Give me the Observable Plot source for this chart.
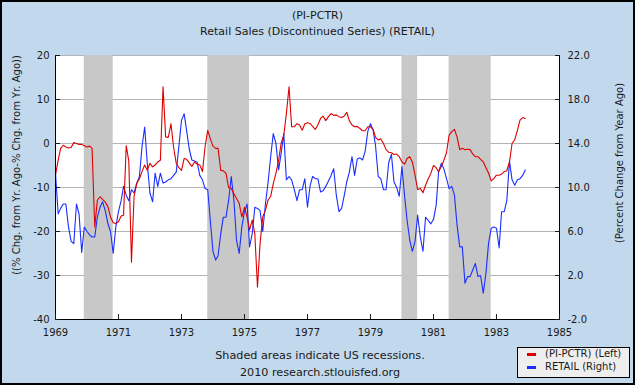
<!DOCTYPE html>
<html><head><meta charset="utf-8">
<script src="https://cdn.jsdelivr.net/npm/d3@7"></script>
<script src="https://cdn.jsdelivr.net/npm/@observablehq/plot@0.6"></script>
<style>
html,body{margin:0;padding:0;background:#c2d8ec;}
#wrap{position:relative;width:635px;height:385px;background:#c2d8ec;font-family:"DejaVu Sans",sans-serif;color:#1a1a1a;overflow:hidden}
#chart{position:absolute;left:0;top:0}
.t{position:absolute;white-space:nowrap;font-size:11px;line-height:13px}
.rot{position:absolute;white-space:nowrap;font-size:10px;line-height:12px;transform:translate(-50%,-50%) rotate(-90deg)}
#border{position:absolute;left:0;top:0;width:635px;height:385px;box-sizing:border-box;border:2px solid #000;pointer-events:none}
#legend{position:absolute;left:517px;top:347px;width:113px;height:31px;box-sizing:border-box;border:1px solid #000;background:#eeeeee;font-size:10px}
.sw{position:absolute;left:9px;width:9px;height:3px}
.lt{position:absolute;left:27px;white-space:nowrap;line-height:12px}
</style></head><body>
<div id="wrap">
<div id="chart"></div>
<div class="t" style="left:0;width:635px;text-align:center;top:9px">(PI-PCTR)</div>
<div class="t" style="left:0;width:635px;text-align:center;top:25px">Retail Sales (Discontinued Series) (RETAIL)</div>
<div class="rot" style="left:17px;top:165px">((% Chg. from Yr. Ago-% Chg. from Yr. Ago))</div>
<div class="rot" style="left:620px;top:163px">(Percent Change from Year Ago)</div>
<div class="t" style="left:0;width:640px;text-align:center;top:349px;font-size:11.2px">Shaded areas indicate US recessions.</div>
<div class="t" style="left:0;width:640px;text-align:center;top:366px;font-size:11.2px">2010 research.stlouisfed.org</div>
<div id="legend">
  <div class="sw" style="top:5px;background:#dd0000"></div><div class="lt" style="top:0px">(PI-PCTR) (Left)</div>
  <div class="sw" style="top:18px;background:#1a2eff"></div><div class="lt" style="top:13px">RETAIL (Right)</div>
</div>
<div id="border"></div>
</div>
<script>
// ---- data (monthly, starting Jan 1969) ----
const startYear = 1969;
const piPctr = [
  -7.2,-3.8,-1.1,-0.4,-0.8,-1.0,-0.9,0.2,0.0,-0.2,-0.2,-0.5,
  -0.8,-0.6,-1.1,-19.0,-12.9,-12.1,-12.7,-13.3,-14.4,-16.7,-18.0,-18.2,
  -17.8,-16.5,-16.3,-0.5,-4.0,-27.0,-12.0,-9.1,-8.0,-6.4,-4.9,-6.1,
  -4.5,-5.3,-4.9,-4.2,-3.8,12.9,1.5,1.4,4.5,-0.8,-4.5,-5.5,
  -6.1,-3.4,-3.6,-4.4,-5.2,-4.2,-4.7,-4.9,-6.4,-0.8,3.0,1.1,
  -0.6,-1.1,-1.1,-6.1,-6.2,-6.8,-10.0,-10.2,-11.4,-12.5,-13.6,-16.7,
  -14.5,-16.7,-19.7,-17.4,-20.5,-32.6,-22.7,-16.7,-15.2,-12.9,-12.0,-9.1,
  -6.8,-3.8,0.0,1.9,6.8,12.9,3.8,3.8,4.5,4.2,3.0,4.5,
  4.7,4.5,3.9,3.2,4.2,5.7,6.2,5.2,6.1,6.8,6.4,6.5,
  6.1,5.9,6.2,7.1,5.2,4.2,3.8,3.9,3.4,2.9,2.9,3.8,
  3.8,3.2,1.4,0.8,1.1,0.0,-1.4,-2.0,-2.1,-2.5,-2.4,-3.0,
  -4.2,-4.7,-3.4,-3.0,-4.2,-7.2,-10.5,-10.2,-11.2,-9.5,-8.0,-6.8,
  -5.0,-5.5,-6.4,-5.3,-3.8,-2.1,1.9,2.7,3.2,1.5,-1.4,-1.1,
  -1.4,-1.3,-1.4,-2.4,-3.0,-3.0,-3.6,-4.2,-5.5,-6.7,-8.5,-8.0,
  -7.2,-7.2,-7.0,-6.4,-6.2,-4.2,0.0,0.9,3.0,5.3,5.9,5.7
];
const retail = [
  11.3,7.6,8.1,8.5,8.5,6.4,5.1,4.9,8.5,7.6,4.1,6.4,
  6.0,5.7,5.5,5.5,7.3,8.2,8.7,7.9,6.7,6.0,4.0,6.4,
  7.8,8.8,10.1,9.3,8.8,9.8,9.5,10.4,11.0,13.7,15.5,12.2,
  9.5,8.7,11.3,10.1,11.3,10.4,10.5,10.7,10.8,11.1,11.4,13.7,
  16.1,16.7,15.2,13.5,12.5,12.4,12.3,11.1,10.7,9.9,9.8,7.0,
  4.2,3.4,3.8,5.8,7.3,7.3,8.8,11.0,8.8,5.2,4.0,6.4,
  7.8,8.5,4.6,5.8,8.2,8.1,7.9,6.0,8.5,10.4,12.8,14.9,
  14.0,11.6,13.1,14.9,10.7,11.0,10.7,9.8,8.8,9.8,9.8,10.8,
  8.2,10.2,11.0,10.8,10.8,9.6,9.7,10.1,10.6,11.1,11.7,9.3,
  7.8,8.1,9.2,10.5,11.4,12.8,11.1,12.6,12.7,12.5,13.3,15.1,
  15.8,15.2,13.8,11.0,10.8,9.8,9.8,12.3,13.0,10.5,10.0,9.2,
  11.9,9.2,7.0,5.2,4.2,5.1,7.5,5.5,4.2,7.3,7.0,6.7,
  7.1,8.4,11.4,12.2,11.7,10.8,9.9,10.1,9.3,6.6,4.6,4.6,
  1.3,1.9,1.9,2.5,3.1,1.9,2.0,0.4,2.2,4.9,6.3,6.4,
  6.3,4.5,7.8,7.8,8.8,12.4,10.7,10.2,10.7,10.8,11.1,11.6
];
const recessionStarts = ["1969-12-01","1973-11-01","1980-01-01","1981-07-01"];
const recessionEnds   = ["1970-11-01","1975-03-01","1980-07-01","1982-11-01"];
const leftTicks  = [-40,-30,-20,-10,0,10,20];
const rightTicks = [-2.0,2.0,6.0,10.0,14.0,18.0,22.0];
const xTickYears = [1969,1971,1973,1975,1977,1979,1981,1983,1985];

// ---- build ----
const monthDate = i => new Date(Date.UTC(startYear, i, 1));
const redData = piPctr.map((v,i)=>({date: monthDate(i), value: v}));
const blueData = retail.map((v,i)=>({date: monthDate(i), value: v}));
const recessions = recessionStarts.map((s,i)=>({start: new Date(s+"T00:00Z"), end: new Date(recessionEnds[i]+"T00:00Z")}));
const L0 = leftTicks[0], L1 = leftTicks[leftTicks.length-1];
const R0 = rightTicks[0], R1 = rightTicks[rightTicks.length-1];
const toLeft = r => L0 + (r - R0) * (L1 - L0) / (R1 - R0);
const toRight = l => R0 + (l - L0) * (R1 - R0) / (L1 - L0);
const xTicks = xTickYears.map(y => new Date(Date.UTC(y,0,1)));
const xDomain = [xTicks[0], xTicks[xTicks.length-1]];

const chart = Plot.plot({
  width: 635, height: 385,
  marginLeft: 55, marginRight: 76, marginTop: 55, marginBottom: 66,
  style: {background: "transparent", fontFamily: "DejaVu Sans", fontSize: "10px", color: "#1a1a1a"},
  x: {type: "utc", domain: xDomain, label: null},
  y: {domain: [L0, L1], label: null},
  marks: [
    Plot.frame({fill: "white", stroke: "none"}),
    Plot.gridY(leftTicks, {stroke: "#b4b4b4", strokeOpacity: 1}),
    Plot.rect(recessions, {x1: "start", x2: "end", y1: L0, y2: L1, fill: "#c8c8c8"}),
    Plot.line(blueData, {x: "date", y: d => toLeft(d.value), stroke: "#1a2eff", strokeWidth: 1.1}),
    Plot.line(redData, {x: "date", y: "value", stroke: "#dd0000", strokeWidth: 1.1}),
    Plot.ruleY([L0], {stroke: "black"}),
    Plot.ruleX(xDomain, {stroke: "black"}),
    Plot.axisX(xTicks, {anchor: "bottom", tickSize: 0, tickPadding: 9, tickFormat: d => String(d.getUTCFullYear()), label: null}),
    Plot.axisX(xTicks, {anchor: "bottom", tickSize: 5, dy: -5, tickFormat: () => "", label: null}),
    Plot.axisY(leftTicks, {anchor: "left", tickSize: 0, tickPadding: 6, tickFormat: d => String(d), label: null}),
    Plot.axisY(leftTicks, {anchor: "left", tickSize: 5, dx: 5, tickFormat: () => "", label: null}),
    Plot.axisY(rightTicks.map(toLeft), {anchor: "right", tickSize: 0, tickPadding: 8, tickFormat: d => toRight(d).toFixed(1), label: null}),
    Plot.axisY(rightTicks.map(toLeft), {anchor: "right", tickSize: 5, dx: -5, tickFormat: () => "", label: null})
  ]
});
document.getElementById("chart").appendChild(chart);
</script>
</body></html>
